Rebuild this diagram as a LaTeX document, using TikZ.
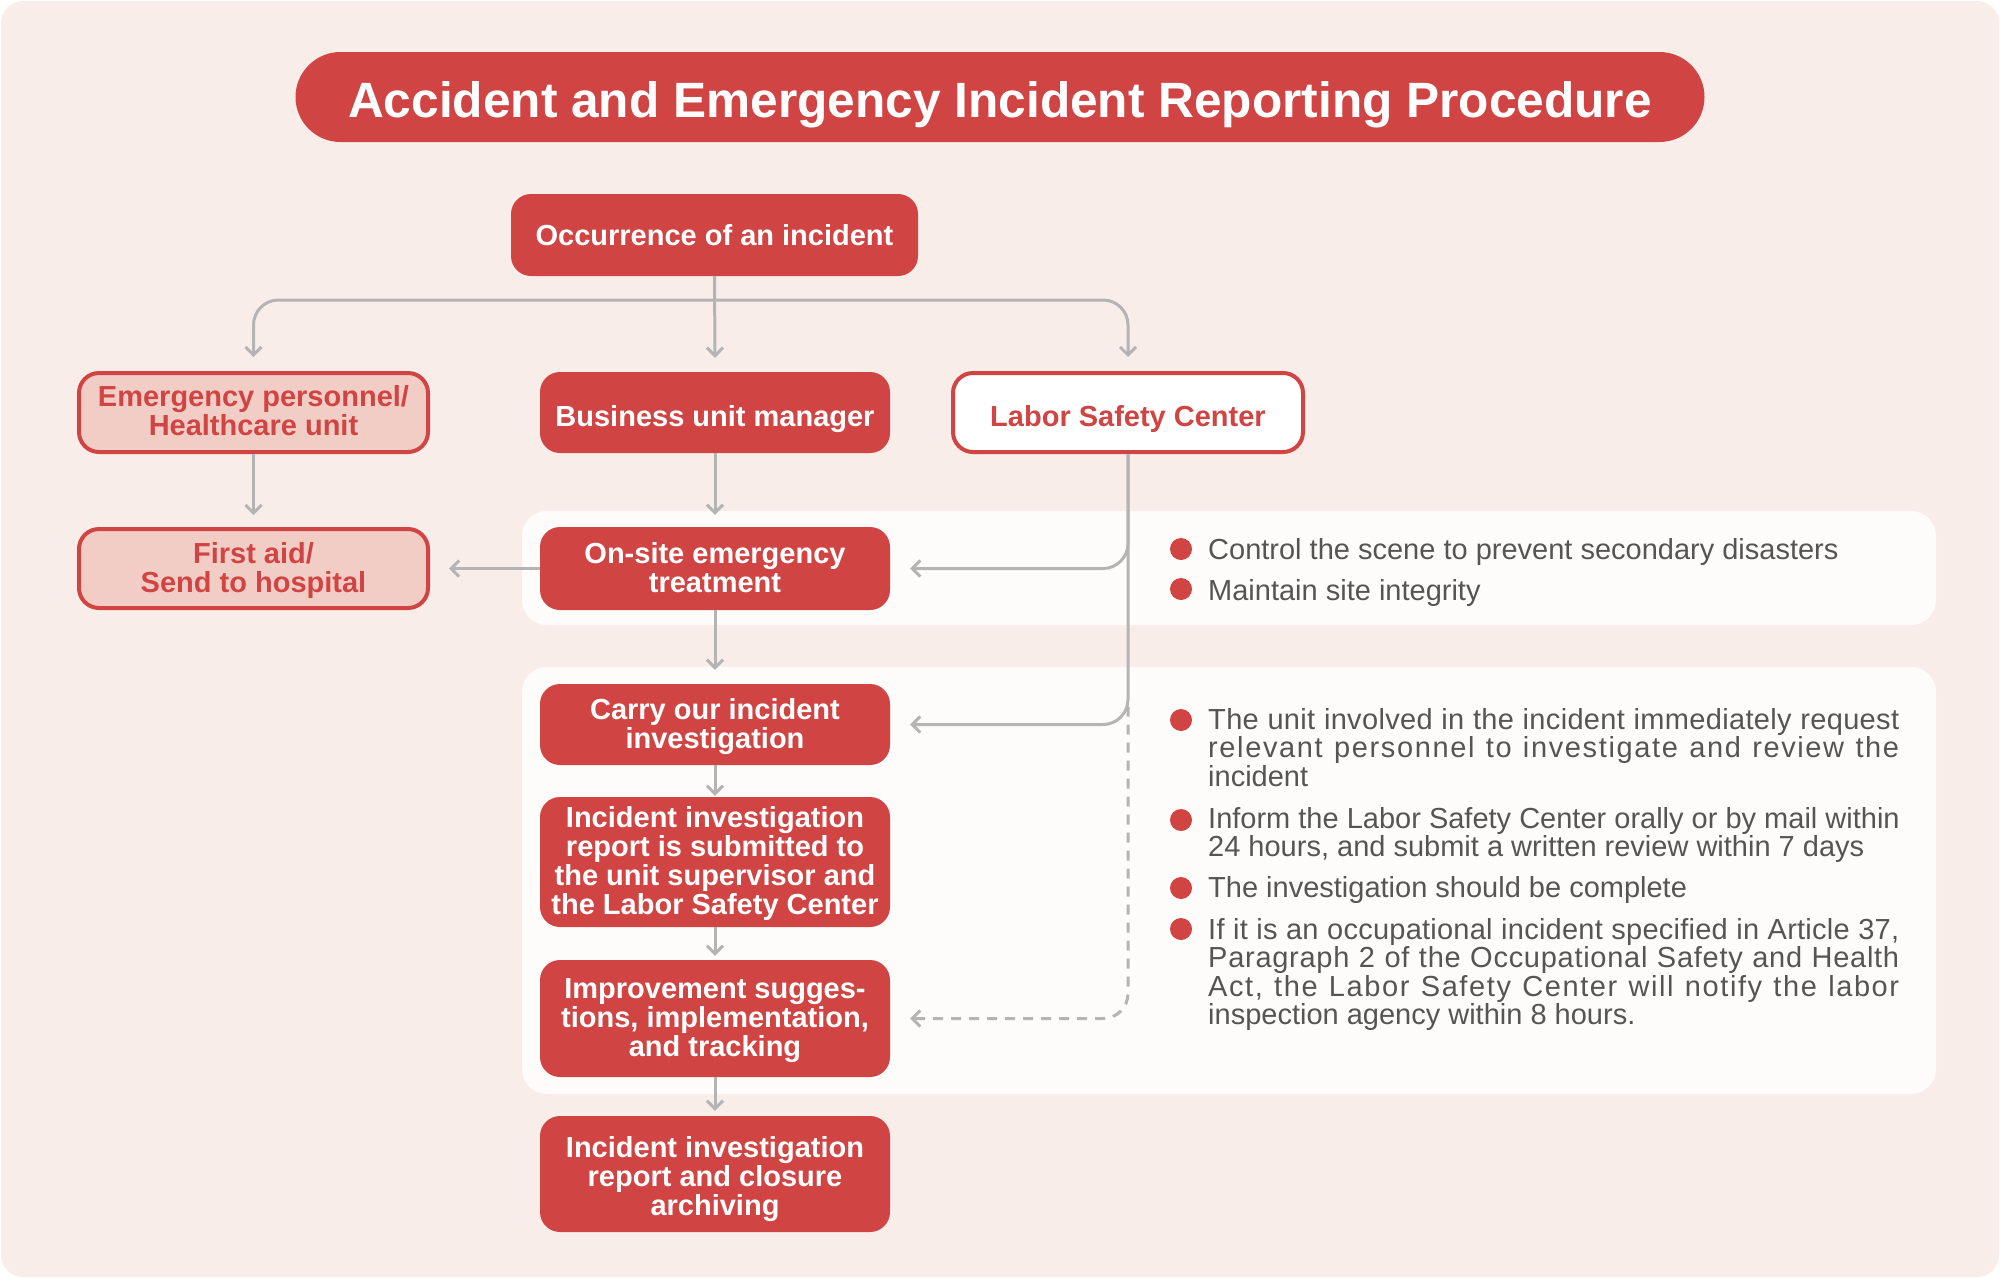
\documentclass[tikz,border=0pt]{standalone}
\usepackage{fontspec}
\setmainfont{Liberation Sans}
\usetikzlibrary{arrows.meta,calc}
\definecolor{bgpink}{HTML}{F9EDEA}
\definecolor{accred}{HTML}{D04543}
\definecolor{lightpink}{HTML}{F2CDC6}
\definecolor{panelw}{HTML}{FEFCFB}
\definecolor{linegray}{HTML}{B4B4B4}
\definecolor{txtgray}{HTML}{555555}
\newcommand\bxfont{\fontsize{29}{29}\selectfont\bfseries}
\newcommand\bodyfont{\fontsize{29}{29}\selectfont}
\newcommand\ts[1]{\rule{0pt}{#1pt}}
\newcommand\bs{\rule[-7pt]{0pt}{7pt}}
\makeatletter
\newcommand\lsp{\hskip\fontdimen2\font\relax}
\newcommand\lspread[1]{\hbox to 691pt{\@tfor\lsx:=#1\do{\lsx\hskip 0pt plus 1fil\relax}\unskip}}
\makeatother
\newcommand\pline[1]{\hbox{#1}}
\begin{document}
\begin{tikzpicture}[x=1pt,y=-1pt,
  redbox/.style={rounded corners=20pt, fill=accred, text=white, font=\bxfont, align=center, inner sep=0pt, minimum width=350pt},
  pinkbox/.style={rounded corners=20pt, fill=lightpink, draw=accred, line width=4pt, text=accred, font=\bxfont, align=center, inner sep=0pt, minimum width=349pt, minimum height=79pt},
  whitebox/.style={rounded corners=20pt, fill=white, draw=accred, line width=4pt, text=accred, font=\bxfont, align=center, inner sep=0pt, minimum width=350pt, minimum height=79pt},
  panel/.style={rounded corners=25pt, fill=panelw, inner sep=0pt, minimum width=1414pt},
  conn/.style={draw=linegray, line width=3pt, -{Straight Barb[length=8pt,width=16pt]}},
  dashline/.style={dash pattern=on 10pt off 8pt},
  dot/.style={circle, fill=accred, inner sep=0pt, minimum size=22pt},
  bodytxt/.style={font=\bodyfont, text=txtgray, inner sep=0pt, anchor=base west}
]
\useasboundingbox (0,0) rectangle (2000,1278);
\fill[white] (0,0) rectangle (2000,1278);
\fill[bgpink, rounded corners=22pt] (1,1) rectangle (1999,1277);

% panels
\node[panel, minimum height=114pt] (p1) at (1229,568) {};
\node[panel, minimum height=427pt] (p2) at (1229,880.5) {};

% title
\node[fill=accred, rounded corners=45pt, minimum width=1409pt, minimum height=90pt, inner sep=0pt, text=white, font=\fontsize{49.6}{50}\selectfont\bfseries] (title) at (1000,97) {\rule[-12pt]{0pt}{64pt}Accident and Emergency Incident Reporting Procedure};

% boxes
\node[redbox, minimum width=407pt, minimum height=82pt] (occ) at (714.5,235) {\ts{28}Occurrence of an incident\bs};
\node[pinkbox] (emg) at (253.5,412.5) {\ts{23}Emergency personnel/\\Healthcare unit\bs};
\node[redbox, minimum height=81pt] (bum) at (715,412.5) {\ts{35}Business unit manager\bs};
\node[whitebox] (lsc) at (1128,412.5) {\ts{35}Labor Safety Center\bs};
\node[pinkbox] (fa) at (253.5,568.5) {\ts{25}First aid/\\Send to hospital\bs};
\node[redbox, minimum height=83pt] (ons) at (715,568.5) {\ts{26}On-site emergency\\treatment\bs};
\node[redbox, minimum height=81pt] (car) at (715,724.5) {\ts{25}Carry our incident\\investigation\bs};
\node[redbox, minimum height=130pt] (rep) at (715,862) {\ts{25}Incident investigation\\report is submitted to\\the unit supervisor and\\the Labor Safety Center\bs};
\node[redbox, minimum height=117pt] (imp) at (715,1018.5) {\ts{25}Improvement sugges-\\tions, implementation,\\and tracking\bs};
\node[redbox, minimum height=116pt] (clo) at (715,1174) {\ts{31}Incident investigation\\report and closure\\archiving\bs};

% connectors
\coordinate (split) at (715,300);
\draw[conn] (occ.south) -- ([yshift=14pt]bum.north);
\draw[conn, rounded corners=25pt] (split) -| ([yshift=14pt]emg.north);
\draw[conn, rounded corners=25pt] (split) -| ([yshift=14pt]lsc.north);
\draw[conn] (emg.south) -- ([yshift=12pt]fa.north);
\draw[conn] (bum.south) -- ([yshift=12pt]ons.north);
\draw[conn] (ons.west) -- ([xshift=19pt]fa.east);
\draw[conn, rounded corners=25pt] (lsc.south) |- ([xshift=20pt]ons.east);
\draw[conn, rounded corners=25pt] (lsc.south) |- ([xshift=20pt]car.east);
\draw[conn, dashline, rounded corners=25pt] ($(lsc.south |- car.east)+(0,-18)$) |- ([xshift=20pt]imp.east);
\draw[conn] (ons.south) -- ([yshift=14pt]car.north);
\draw[conn] (car.south) -- ([yshift=1pt]rep.north);
\draw[conn] (rep.south) -- ([yshift=4pt]imp.north);
\draw[conn] (imp.south) -- ([yshift=5pt]clo.north);

% bullets panel 1
\node[dot] (d1) at (1181,549) {};
\node[dot] (d2) at (1181,589) {};
\node[bodytxt] (t1) at (1208,559) {Control the scene to prevent secondary disasters};
\node[bodytxt] (t2) at (1208,600) {Maintain site integrity};

% bullets panel 2
\node[dot] (d3) at (1181,720) {};
\node[dot] (d4) at (1181,820) {};
\node[dot] (d5) at (1181,888) {};
\node[dot] (d6) at (1181,929) {};
\node[bodytxt] (t3) at (1208,729) {\vtop{\baselineskip=28.5pt
  \lspread{The\lsp unit\lsp involved\lsp in\lsp the\lsp incident\lsp immediately\lsp request}
  \lspread{relevant\lsp personnel\lsp to\lsp investigate\lsp and\lsp review\lsp the}
  \pline{incident}}};
\node[bodytxt] (t4) at (1208,828) {\vtop{\baselineskip=28.5pt
  \lspread{Inform\lsp the\lsp Labor\lsp Safety\lsp Center\lsp orally\lsp or\lsp by\lsp mail\lsp within}
  \pline{24 hours, and submit a written review within 7 days}}};
\node[bodytxt] (t5) at (1208,897) {The investigation should be complete};
\node[bodytxt] (t6) at (1208,939) {\vtop{\baselineskip=28.6pt
  \lspread{If\lsp it\lsp is\lsp an\lsp occupational\lsp incident\lsp specified\lsp in\lsp Article\lsp 37,}
  \lspread{Paragraph\lsp 2\lsp of\lsp the\lsp Occupational\lsp Safety\lsp and\lsp Health}
  \lspread{Act,\lsp the\lsp Labor\lsp Safety\lsp Center\lsp will\lsp notify\lsp the\lsp labor}
  \pline{inspection agency within 8 hours.}}};
\end{tikzpicture}
\end{document}
